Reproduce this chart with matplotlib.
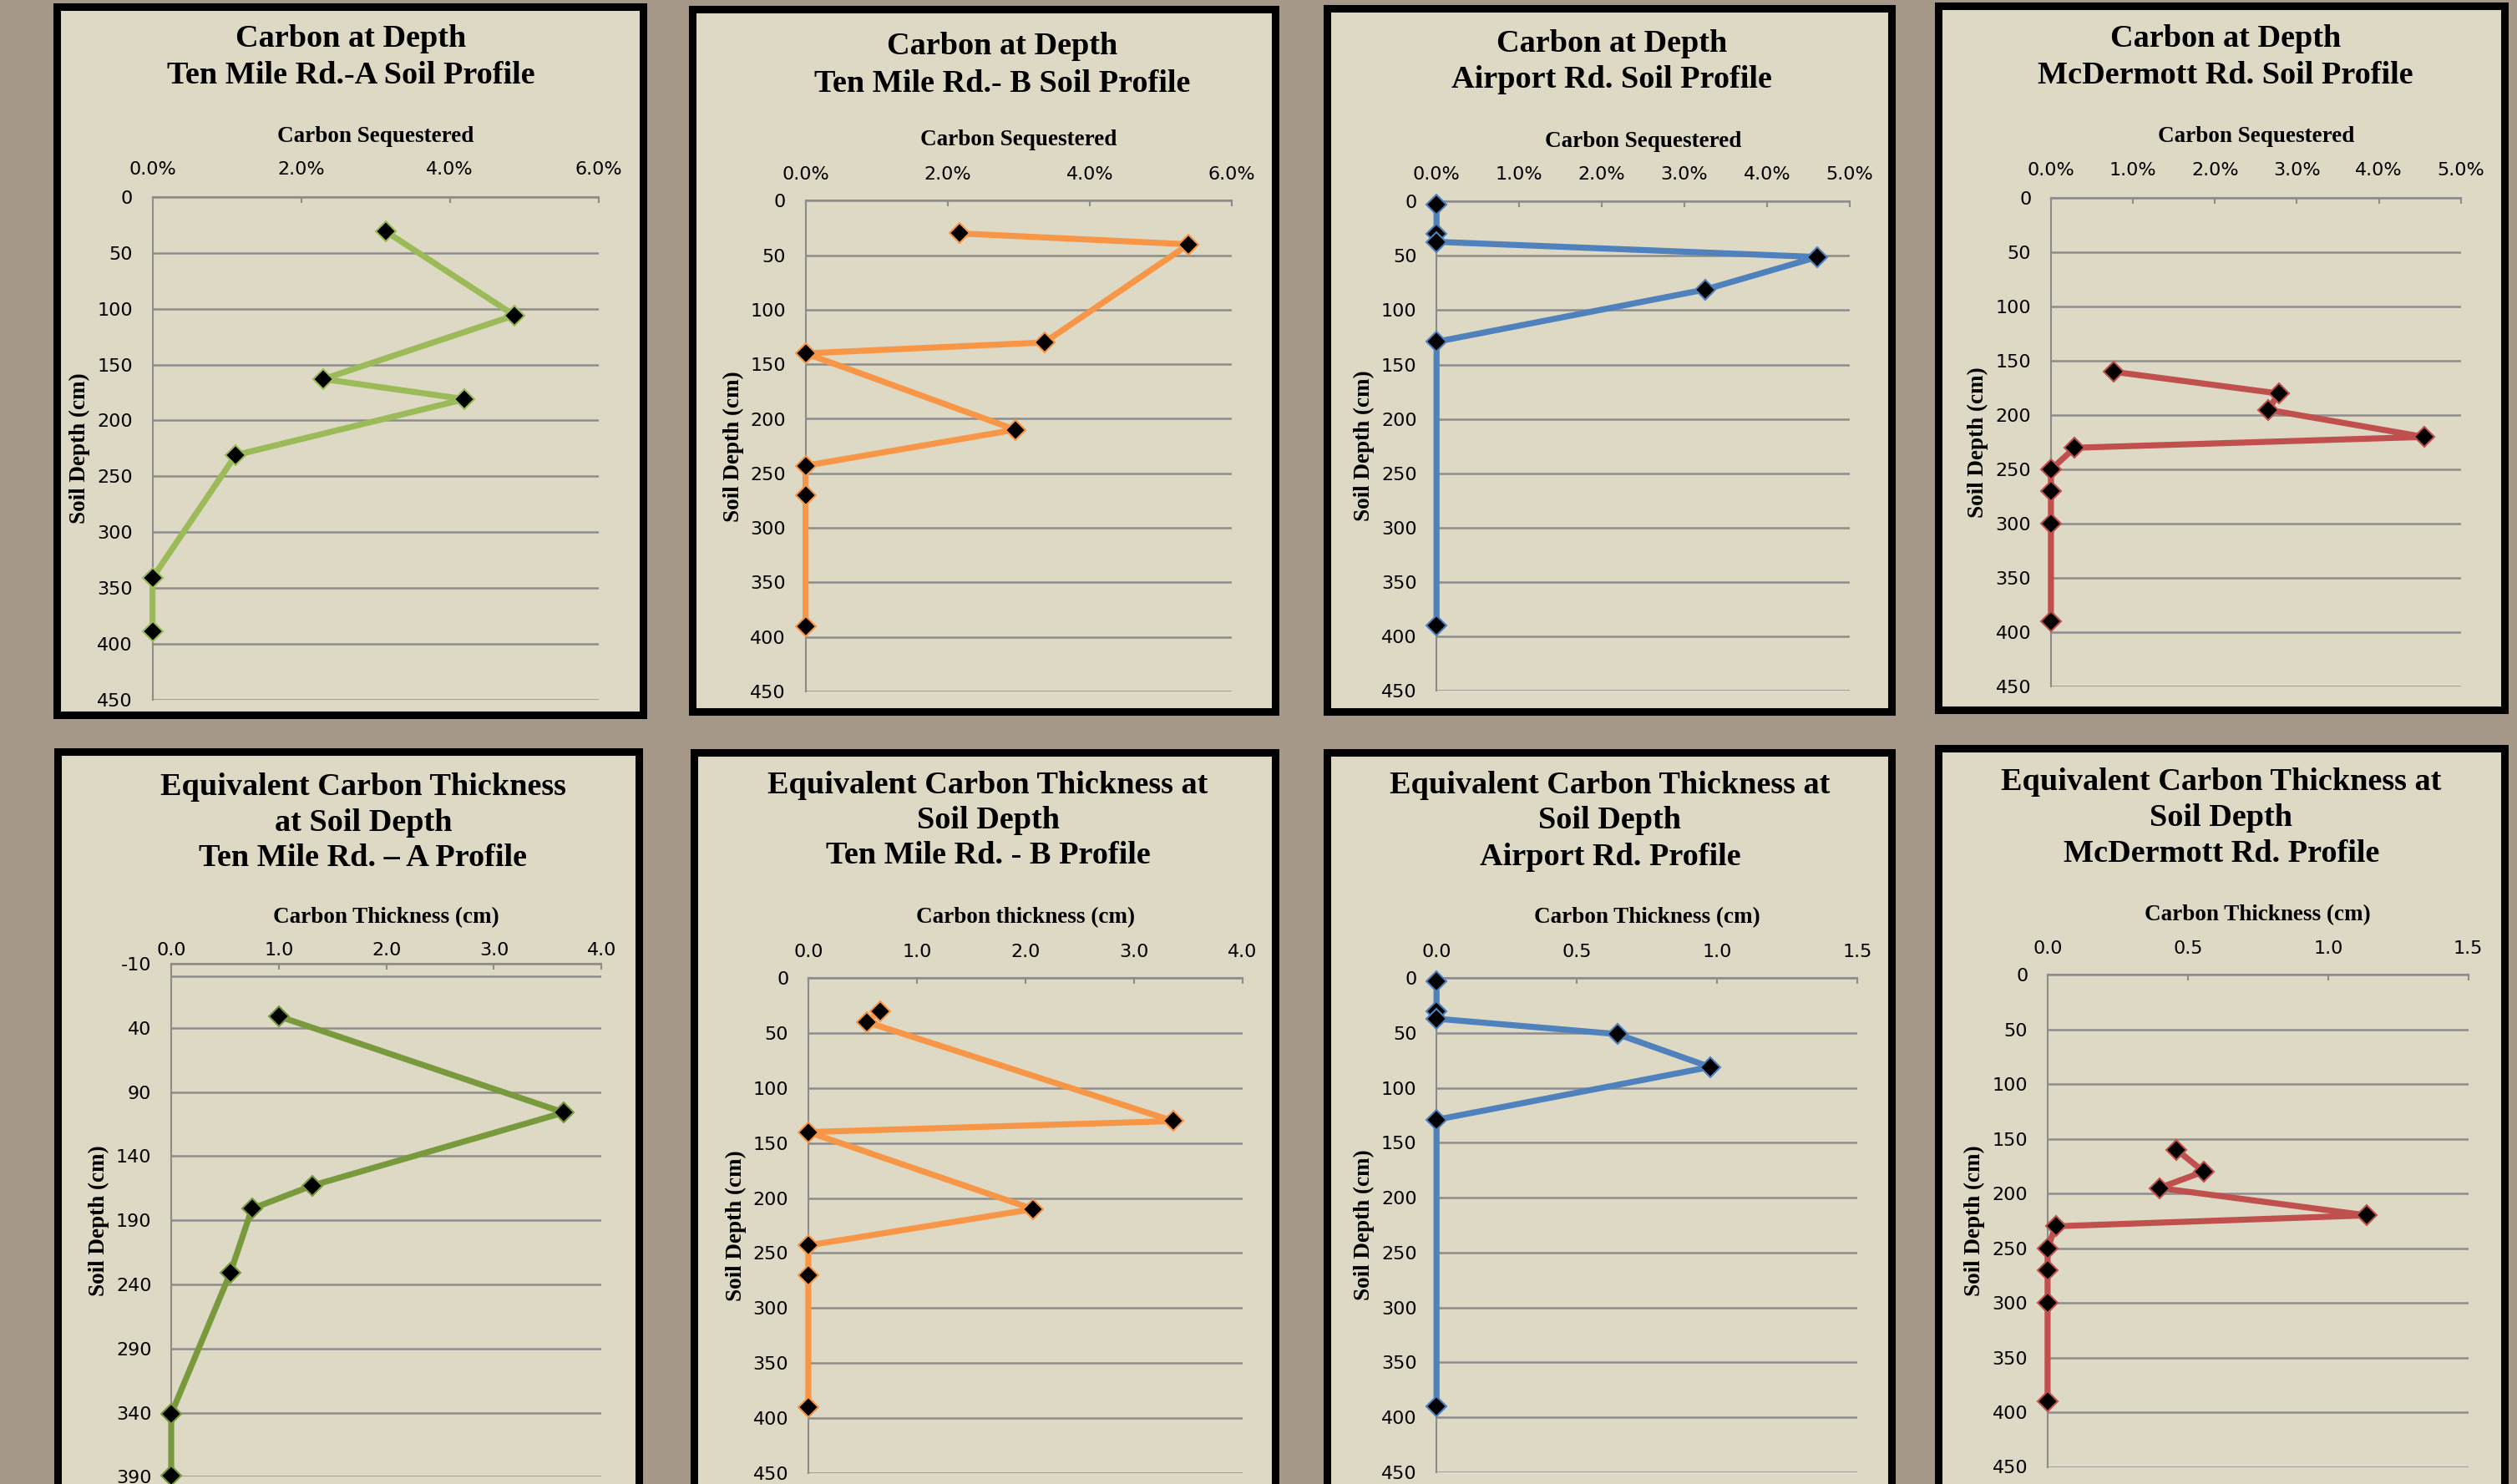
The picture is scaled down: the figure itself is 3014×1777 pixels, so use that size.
import matplotlib.pyplot as plt
from matplotlib.patches import Rectangle

W, H = 3014, 1777

# depth (cm) and carbon values
ten_a_depth = [31, 106, 163, 181, 231, 341, 389]
ten_a_pct = [3.14, 4.87, 2.30, 4.20, 1.12, 0.0, 0.0]
ten_a_thick = [1.00, 3.65, 1.31, 0.75, 0.55, 0.0, 0.0]

ten_b_depth = [30, 40, 130, 140, 210, 243, 270, 390]
ten_b_pct = [2.17, 5.39, 3.36, 0.0, 2.95, 0.0, 0.0, 0.0]
ten_b_thick = [0.66, 0.54, 3.36, 0.0, 2.07, 0.0, 0.0, 0.0]

airport_depth = [3, 30, 37, 51, 81, 129, 390]
airport_pct = [0.0, 0.0, 0.0, 4.61, 3.25, 0.0, 0.0]
airport_thick = [0.0, 0.0, 0.0, 0.644, 0.975, 0.0, 0.0]

mcd_depth = [160, 180, 195, 220, 230, 250, 270, 300, 390]
mcd_pct = [0.76, 2.78, 2.65, 4.55, 0.29, 0.0, 0.0, 0.0, 0.0]
mcd_thick = [0.46, 0.556, 0.398, 1.139, 0.029, 0.0, 0.0, 0.0, 0.0]

# axis ticks
pct6_ticks = [0, 2, 4, 6]
pct5_ticks = [0, 1, 2, 3, 4, 5]
thick4_ticks = [0, 1, 2, 3, 4]
thick15_ticks = [0, 0.5, 1.0, 1.5]
depth_ticks = [0, 50, 100, 150, 200, 250, 300, 350, 400, 450]
depth_ticks_a = [-10, 40, 90, 140, 190, 240, 290, 340, 390]

GREEN = '#9BBB59'
DKGREEN = '#789A3D'
ORANGE = '#F79646'
BLUE = '#4F81BD'
RED = '#C0504D'
BEIGE = '#DED9C4'
GRID = '#8C8C8C'

SERIF = 'Liberation Serif'
SANS = 'DejaVu Sans'
TICK_FS = 16

fig = plt.figure(figsize=(W / 100, H / 100), dpi=100)
fig.patch.set_facecolor('#A59888')


def fx(x):
    return x / W


def fy(y):
    return 1 - y / H


def panel(box, area, titles, title_x, title_ys, xlabel, xlabel_y, ylabel_x,
          tick_y, xs, depth, color, xticks, pct, yticks, extra0=False):
    # chart background box with thick black border
    bx0, by0, bx1, by1 = box
    fig.add_artist(Rectangle((fx(bx0), fy(by1)), (bx1 - bx0) / W, (by1 - by0) / H,
                             transform=fig.transFigure, facecolor=BEIGE,
                             edgecolor='black', linewidth=6.5, zorder=-1))
    x0, y0, x1, y1 = area
    ax = fig.add_axes([fx(x0), fy(y1), (x1 - x0) / W, (y1 - y0) / H])
    ax.set_facecolor('none')

    ax.plot(xs, depth, color=color, lw=5.2, marker='D', ms=12.5, mfc='black',
            mec=color, mew=1.5, clip_on=False, zorder=3)

    ax.set_xlim(xticks[0], xticks[-1])
    ax.set_ylim(yticks[-1], yticks[0])
    ax.set_xticks(xticks)
    if pct:
        ax.set_xticklabels(['%.1f%%' % t for t in xticks])
    else:
        ax.set_xticklabels(['%.1f' % t for t in xticks])
    ax.set_yticks(yticks)
    ax.set_yticklabels([str(t) for t in yticks])

    ax.xaxis.tick_top()
    pad = (y0 - tick_y - 13) * 0.72
    ax.tick_params(axis='x', direction='in', length=5, width=1.5, color=GRID,
                   pad=pad, labelsize=TICK_FS)
    ax.tick_params(axis='y', length=0, pad=17, labelsize=TICK_FS)
    for lab in ax.get_xticklabels() + ax.get_yticklabels():
        lab.set_fontfamily(SANS)

    for s in ['right', 'bottom']:
        ax.spines[s].set_visible(False)
    for s in ['top', 'left']:
        ax.spines[s].set_color(GRID)
        ax.spines[s].set_linewidth(1.5)
    ax.yaxis.grid(True, color=GRID, lw=1.8)
    ax.set_axisbelow(True)
    if extra0:
        ax.axhline(0, color=GRID, lw=1.8, zorder=1)

    for t, ty in zip(titles, title_ys):
        fig.text(fx(title_x), fy(ty), t, ha='center', va='center',
                 family=SERIF, weight='bold', fontsize=27.5)
    fig.text(fx((x0 + x1) / 2), fy(xlabel_y), xlabel, ha='center', va='center',
             family=SERIF, weight='bold', fontsize=19.5)
    fig.text(fx(ylabel_x), fy((y0 + y1) / 2), 'Soil Depth (cm)', ha='center',
             va='center', rotation=90, family=SERIF, weight='bold', fontsize=19.5)
    return ax


# top row: carbon sequestered
panel((68, 8, 770, 856), (182.6, 235.8, 716.7, 837.9),
      ['Carbon at Depth', 'Ten Mile Rd.-A Soil Profile'], 420, [47, 90],
      'Carbon Sequestered', 163.7, 95.4, 200,
      ten_a_pct, ten_a_depth, GREEN, pct6_ticks, True, depth_ticks)

panel((829, 11, 1527, 852), (964.6, 240.3, 1475.3, 828),
      ['Carbon at Depth', 'Ten Mile Rd.- B Soil Profile'], 1200, [55.5, 100],
      'Carbon Sequestered', 168, 878, 206,
      ten_b_pct, ten_b_depth, ORANGE, pct6_ticks, True, depth_ticks)

panel((1589, 10, 2265, 852), (1720.2, 241.4, 2214.8, 826.8),
      ['Carbon at Depth', 'Airport Rd. Soil Profile'], 1930, [52.7, 95.4],
      'Carbon Sequestered', 169, 1633.6, 206,
      airport_pct, airport_depth, BLUE, pct5_ticks, True, depth_ticks)

panel((2321, 7, 2999, 850), (2455.9, 237, 2946.7, 822.4),
      ['Carbon at Depth', 'McDermott Rd. Soil Profile'], 2665, [47, 90.5],
      'Carbon Sequestered', 163.7, 2368.4, 201,
      mcd_pct, mcd_depth, RED, pct5_ticks, True, depth_ticks)

# bottom row: equivalent carbon thickness
panel((69, 900, 765, 1800), (205, 1154, 720.3, 1768.4),
      ['Equivalent Carbon Thickness', 'at Soil Depth', 'Ten Mile Rd. \u2013 A Profile'],
      435, [943, 985.8, 1027.6],
      'Carbon Thickness (cm)', 1099, 118.3, 1134.5,
      ten_a_thick, ten_a_depth, DKGREEN, thick4_ticks, False, depth_ticks_a, extra0=True)

panel((831, 901, 1527, 1800), (967.9, 1171.2, 1488.1, 1763.9),
      ['Equivalent Carbon Thickness at', 'Soil Depth', 'Ten Mile Rd. - B Profile'],
      1183, [940, 983, 1024.7],
      'Carbon thickness (cm)', 1099, 881, 1137.4,
      ten_b_thick, ten_b_depth, ORANGE, thick4_ticks, False, depth_ticks)

panel((1589, 901, 2265, 1800), (1720.2, 1171.2, 2224.2, 1762.7),
      ['Equivalent Carbon Thickness at', 'Soil Depth', 'Airport Rd. Profile'],
      1928, [940, 983, 1026],
      'Carbon Thickness (cm)', 1099, 1633.6, 1137,
      airport_thick, airport_depth, BLUE, thick15_ticks, False, depth_ticks)

panel((2321, 896, 2999, 1800), (2451.9, 1167.2, 2955.7, 1756.5),
      ['Equivalent Carbon Thickness at', 'Soil Depth', 'McDermott Rd. Profile'],
      2660, [936, 980, 1022],
      'Carbon Thickness (cm)', 1096, 2364.8, 1133,
      mcd_thick, mcd_depth, RED, thick15_ticks, False, depth_ticks)

fig.savefig('out.png', dpi=100, facecolor=fig.get_facecolor())
